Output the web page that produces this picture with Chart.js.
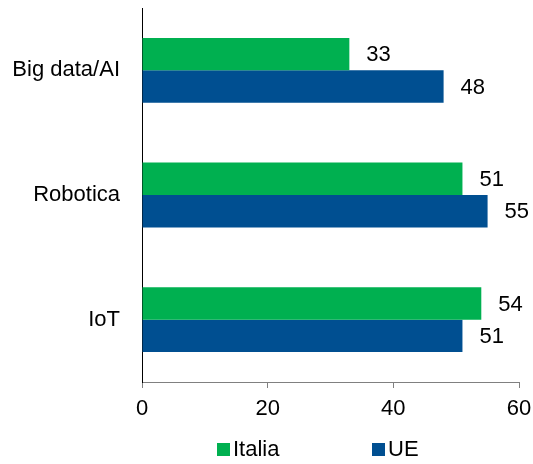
<!DOCTYPE html>
<html>
<head>
<meta charset="utf-8">
<script src="https://cdn.jsdelivr.net/npm/chart.js@4.4.0/dist/chart.umd.min.js"></script>
<style>
    html, body { margin: 0; padding: 0; background: #fff; }
    #wrap { position: relative; width: 533px; height: 464px; }
    #legend {
        position: absolute; left: 0; top: 435px; width: 533px; height: 28px;
        font-family: 'Liberation Sans', Arial, sans-serif; font-size: 22px; color: #000;
    }
    .item { position: absolute; top: 0; display: flex; align-items: center; height: 28px; }
    .box { width: 13px; height: 13px; margin-right: 3px; }
</style>
</head>
<body>
<div id="wrap">
    <canvas id="chart" width="533" height="464"></canvas>
    <div id="legend"></div>
</div>
<script>
// Data
const categories = ['Big data/AI', 'Robotica', 'IoT'];
const italiaValues = [33, 51, 54];
const ueValues = [48, 55, 51];
const xTicks = [0, 20, 40, 60];

const seriesNames = ['Italia', 'UE'];
const seriesColors = ['#00B050', '#004F91'];

const fontFamily = "'Liberation Sans', Arial, sans-serif";

// Plot area edges measured on the reference
const plotLeft = 142;
const plotTop = 8;
const plotBottom = 382;
const padRight = 14;
const padBottom = 40;

// Draws the value next to each bar
const valueLabels = {
    id: 'valueLabels',
    afterDatasetsDraw(chart) {
        const ctx = chart.ctx;
        ctx.save();
        ctx.font = '22px ' + fontFamily;
        ctx.fillStyle = '#000';
        ctx.textAlign = 'left';
        ctx.textBaseline = 'middle';
        chart.data.datasets.forEach((ds, i) => {
            chart.getDatasetMeta(i).data.forEach((bar, j) => {
                ctx.fillText(ds.data[j], bar.x + 17, bar.y + 1);
            });
        });
        ctx.restore();
    }
};

const chart = new Chart(document.getElementById('chart'), {
    type: 'bar',
    data: {
        labels: categories,
        datasets: [
            { label: seriesNames[0], data: italiaValues, backgroundColor: seriesColors[0] },
            { label: seriesNames[1], data: ueValues, backgroundColor: seriesColors[1] }
        ]
    },
    options: {
        indexAxis: 'y',
        responsive: false,
        animation: false,
        categoryPercentage: 0.52,
        barPercentage: 1,
        layout: { padding: { top: plotTop, right: padRight, bottom: padBottom, left: 0 } },
        plugins: {
            legend: { display: false },
            tooltip: { enabled: false }
        },
        scales: {
            x: {
                min: 0,
                max: 60,
                afterBuildTicks: (scale) => { scale.ticks = xTicks.map(v => ({ value: v })); },
                afterFit: (scale) => {
                    // no extra room for the half labels at the ends
                    scale.paddingLeft = 0;
                    scale.paddingRight = 0;
                    scale.height = 464 - padBottom - plotBottom;
                },
                border: { color: '#808080', width: 1 },
                grid: { display: true, drawOnChartArea: false, drawTicks: true, tickLength: 6, color: '#808080' },
                ticks: { color: '#000', padding: 8, font: { family: fontFamily, size: 22 } }
            },
            y: {
                afterFit: (scale) => {
                    scale.paddingTop = 0;
                    scale.paddingBottom = 0;
                    scale.width = plotLeft;
                },
                border: { color: '#000', width: 1 },
                grid: { display: false, drawTicks: false },
                ticks: { color: '#000', padding: 22, font: { family: fontFamily, size: 22 } }
            }
        }
    },
    plugins: [valueLabels]
});

// Legend below the chart
const legendPos = [217, 372];
const legend = document.getElementById('legend');
seriesNames.forEach((name, i) => {
    const item = document.createElement('div');
    item.className = 'item';
    item.style.left = legendPos[i] + 'px';
    item.innerHTML = '<span class="box" style="background:' + seriesColors[i] + '"></span>' + name;
    legend.appendChild(item);
});
</script>
</body>
</html>
